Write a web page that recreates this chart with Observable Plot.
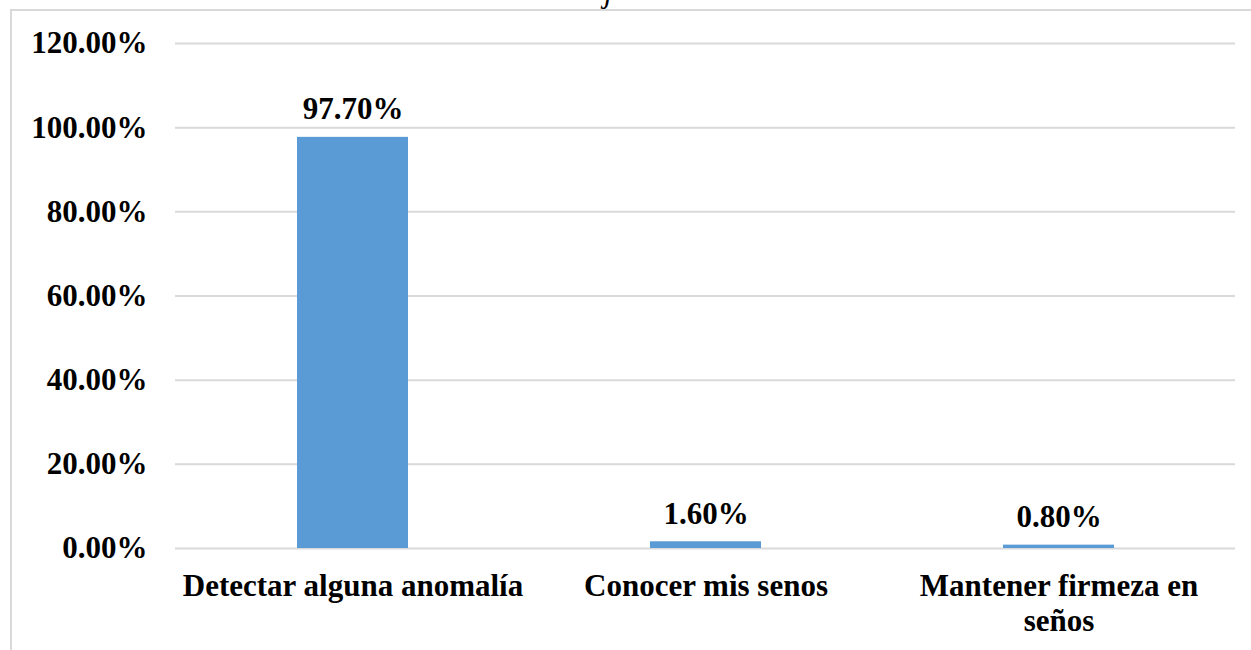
<!DOCTYPE html>
<html>
<head>
<meta charset="utf-8">
<script src="https://cdn.jsdelivr.net/npm/d3@7"></script>
<script src="https://cdn.jsdelivr.net/npm/@observablehq/plot@0.6"></script>
<style>
  html, body { margin: 0; padding: 0; background: #fff; overflow: hidden; }
  body { width: 1251px; height: 650px; position: relative; font-family: "Liberation Serif", "Times New Roman", serif; }
  .frame {
    position: absolute; left: 10px; top: 9px; width: 1260px; height: 700px;
    border: 2px solid #d9d9d9; box-sizing: border-box;
  }
  .title-tail {
    position: absolute; left: 604px; top: -24px; font-size: 31px; font-style: italic;
    color: #000; line-height: 1;
  }
  #chart { position: absolute; left: 0; top: 0; }
</style>
</head>
<body>
<div class="title-tail">j</div>
<div class="frame"></div>
<div id="chart"></div>
<script>
// Reasons reported for breast self-examination (share of respondents)
const categories = ["Detectar alguna anomalía", "Conocer mis senos", "Mantener firmeza en seños"];
const shares = [0.977, 0.016, 0.008];
const yTicks = [0, 0.2, 0.4, 0.6, 0.8, 1.0, 1.2];

const data = categories.map((c, i) => ({category: c, share: shares[i]}));
const pct = d3.format(".2%");

// Split long category names onto two lines
const wrap = (s) => s === "Mantener firmeza en seños" ? "Mantener firmeza en\nseños" : s;

const chart = Plot.plot({
  width: 1251,
  height: 650,
  marginLeft: 175,
  marginRight: 16,
  marginTop: 43,
  marginBottom: 102,
  style: {fontFamily: "Liberation Serif, Times New Roman, serif", fontWeight: "bold", fontSize: "31px", color: "#000", background: "transparent"},
  x: {domain: categories, paddingInner: 0.686, paddingOuter: 0.343, label: null},
  y: {domain: [0, 1.2], label: null},
  marks: [
    Plot.gridY(yTicks, {stroke: "#d9d9d9", strokeOpacity: 1, strokeWidth: 2}),
    Plot.axisY(yTicks, {tickSize: 0, tickPadding: 28, tickFormat: pct, fontSize: 31, fontWeight: "bold", fill: "#000", label: null}),
    Plot.axisX({tickSize: 0, tickPadding: 22, tickFormat: wrap, fontSize: 31, fontWeight: "bold", fill: "#000", lineHeight: 1.15, label: null}),
    Plot.barY(data, {x: "category", y: "share", fill: "#5b9bd5"}),
    Plot.text(data, {x: "category", y: "share", text: (d) => pct(d.share), lineAnchor: "bottom", dy: -18, fontSize: 31, fontWeight: "bold", fill: "#000"})
  ]
});
document.getElementById("chart").appendChild(chart);
</script>
</body>
</html>
